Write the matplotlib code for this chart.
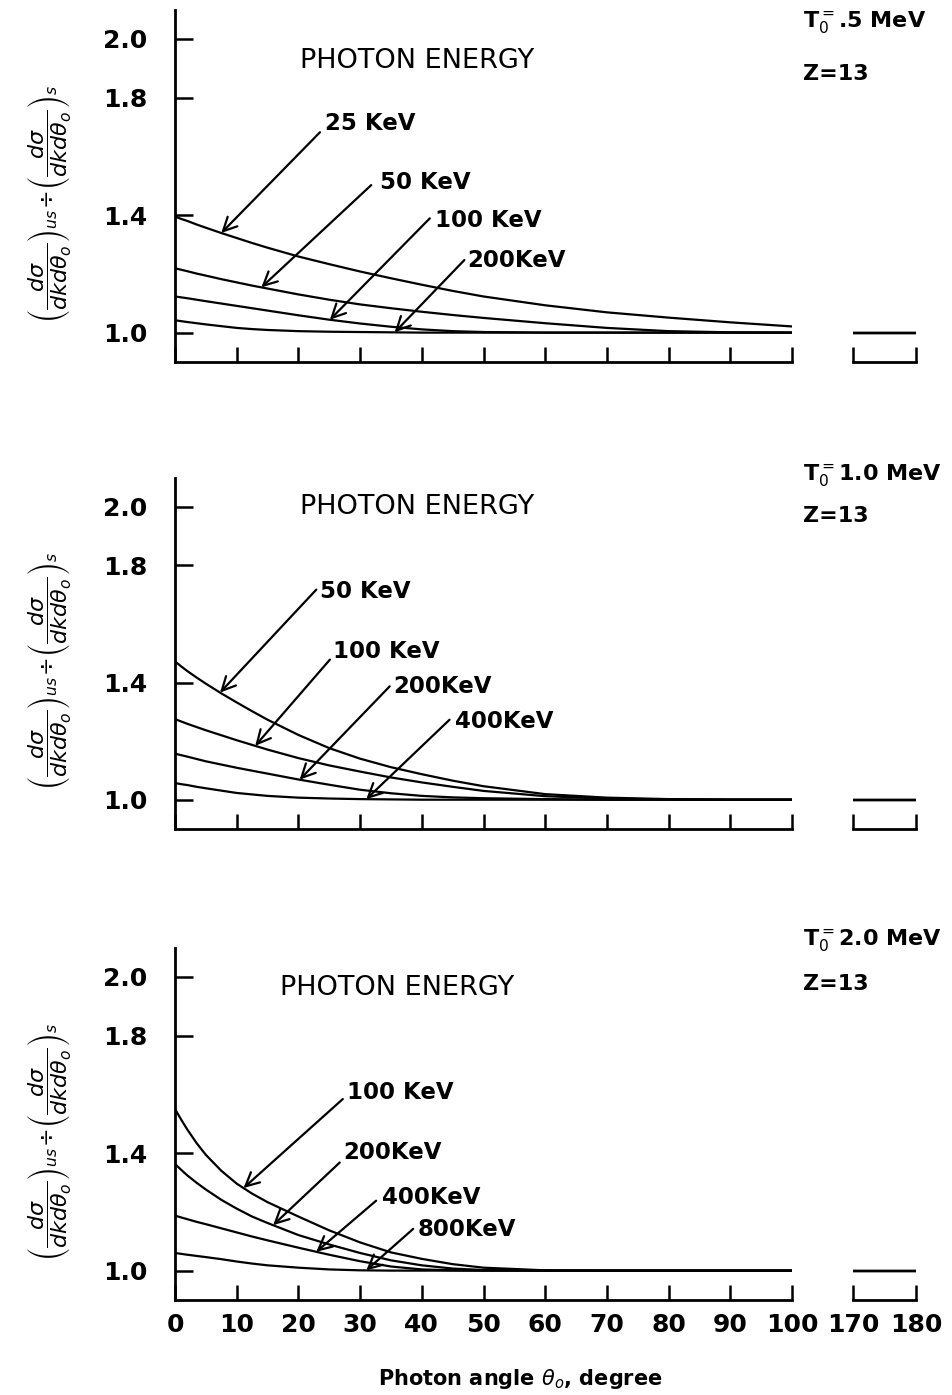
import numpy as np
import matplotlib
matplotlib.use("Agg")
import matplotlib.pyplot as plt

plt.rcParams["font.family"] = ["DejaVu Sans"]
plt.rcParams["mathtext.fontset"] = "dejavusans"

# Photon angle grid (degrees) for the forward region, and the backward stub
angles = [0, 1, 2, 3.5, 5, 7.5, 10, 12.5, 15, 20, 25, 30, 35, 40, 45, 50, 60, 70, 80, 90, 100]
back_angles = [170, 180]
back_ratio = [1.0, 1.0]

# ---- T0 = 0.5 MeV, Z = 13 ----
labels_05 = ["25 KeV", "50 KeV", "100 KeV", "200KeV"]
ratio_05_25 = [1.395, 1.387, 1.380, 1.368, 1.357, 1.339, 1.322, 1.305, 1.289, 1.259, 1.233,
               1.208, 1.185, 1.163, 1.142, 1.123, 1.093, 1.069, 1.051, 1.035, 1.021]
ratio_05_50 = [1.219, 1.214, 1.209, 1.201, 1.194, 1.182, 1.171, 1.160, 1.150, 1.130, 1.112,
               1.096, 1.083, 1.071, 1.060, 1.050, 1.032, 1.016, 1.005, 1.001, 1.000]
ratio_05_100 = [1.123, 1.120, 1.117, 1.112, 1.107, 1.099, 1.091, 1.083, 1.075, 1.059, 1.044,
                1.031, 1.020, 1.011, 1.005, 1.002, 1.000, 1.000, 1.000, 1.000, 1.000]
ratio_05_200 = [1.042, 1.039, 1.036, 1.032, 1.028, 1.022, 1.016, 1.012, 1.009, 1.005, 1.003,
                1.002, 1.001, 1.000, 1.000, 1.000, 1.000, 1.000, 1.000, 1.000, 1.000]

# ---- T0 = 1.0 MeV, Z = 13 ----
labels_10 = ["50 KeV", "100 KeV", "200KeV", "400KeV"]
ratio_10_50 = [1.472, 1.455, 1.439, 1.417, 1.396, 1.363, 1.332, 1.302, 1.273, 1.221, 1.176,
               1.140, 1.111, 1.087, 1.065, 1.046, 1.019, 1.007, 1.002, 1.000, 1.000]
ratio_10_100 = [1.275, 1.267, 1.259, 1.248, 1.237, 1.220, 1.203, 1.187, 1.171, 1.142, 1.117,
                1.096, 1.076, 1.059, 1.044, 1.030, 1.012, 1.004, 1.001, 1.000, 1.000]
ratio_10_200 = [1.157, 1.152, 1.147, 1.139, 1.131, 1.120, 1.109, 1.099, 1.089, 1.069, 1.051,
                1.034, 1.022, 1.013, 1.008, 1.005, 1.002, 1.000, 1.000, 1.000, 1.000]
ratio_10_400 = [1.057, 1.053, 1.050, 1.044, 1.039, 1.031, 1.023, 1.018, 1.013, 1.007, 1.004,
                1.002, 1.001, 1.000, 1.000, 1.000, 1.000, 1.000, 1.000, 1.000, 1.000]

# ---- T0 = 2.0 MeV, Z = 13 ----
labels_20 = ["100 KeV", "200KeV", "400KeV", "800KeV"]
ratio_20_100 = [1.550, 1.514, 1.480, 1.434, 1.394, 1.340, 1.296, 1.262, 1.233, 1.184, 1.137,
                1.096, 1.062, 1.040, 1.022, 1.010, 1.001, 1.000, 1.000, 1.000, 1.000]
ratio_20_200 = [1.363, 1.343, 1.324, 1.299, 1.276, 1.241, 1.211, 1.184, 1.162, 1.121, 1.089,
                1.060, 1.035, 1.018, 1.007, 1.002, 1.000, 1.000, 1.000, 1.000, 1.000]
ratio_20_400 = [1.187, 1.181, 1.175, 1.166, 1.158, 1.144, 1.130, 1.116, 1.103, 1.078, 1.054,
                1.032, 1.014, 1.004, 1.001, 1.000, 1.000, 1.000, 1.000, 1.000, 1.000]
ratio_20_800 = [1.060, 1.057, 1.054, 1.050, 1.046, 1.039, 1.031, 1.024, 1.018, 1.010, 1.004,
                1.001, 1.000, 1.000, 1.000, 1.000, 1.000, 1.000, 1.000, 1.000, 1.000]

# Label placement (angle, ratio): text anchor, arrow tail, and the angle the arrow points at
text_05 = [(24.3, 1.712), (33.2, 1.512), (42.1, 1.382), (47.4, 1.244)]
tail_05 = [(23.5, 1.682), (31.8, 1.502), (41.3, 1.389), (46.9, 1.247)]
head_05 = [7.5, 14.0, 25.1, 35.6]

text_10 = [(23.5, 1.710), (25.6, 1.505), (35.3, 1.386), (45.3, 1.266)]
tail_10 = [(22.9, 1.717), (25.1, 1.478), (34.8, 1.387), (44.5, 1.273)]
head_10 = [7.3, 13.0, 20.2, 31.0]

text_20 = [(27.8, 1.605), (27.2, 1.401), (33.5, 1.248), (39.3, 1.139)]
tail_20 = [(27.2, 1.584), (26.7, 1.368), (32.6, 1.238), (38.6, 1.142)]
head_20 = [11.1, 15.9, 22.9, 31.0]

beam_labels = [r"T$_{0}^{=}$.5 MeV", r"T$_{0}^{=}$1.0 MeV", r"T$_{0}^{=}$2.0 MeV"]
title_xy = [(20.2, 1.925), (20.2, 2.0), (17.0, 1.963)]

yticks = [1.0, 1.4, 1.8, 2.0]
ytick_labels = ["1.0", "1.4", "1.8", "2.0"]
xticks = [0, 10, 20, 30, 40, 50, 60, 70, 80, 90, 100]
xtick_labels = ["0", "10", "20", "30", "40", "50", "60", "70", "80", "90", "100"]
back_ticks = [170, 180]
back_tick_labels = ["170", "180"]

panels = [
    dict(series=[ratio_05_25, ratio_05_50, ratio_05_100, ratio_05_200], labels=labels_05,
         text=text_05, tail=tail_05, head=head_05, beam=beam_labels[0], title=title_xy[0]),
    dict(series=[ratio_10_50, ratio_10_100, ratio_10_200, ratio_10_400], labels=labels_10,
         text=text_10, tail=tail_10, head=head_10, beam=beam_labels[1], title=title_xy[1]),
    dict(series=[ratio_20_100, ratio_20_200, ratio_20_400, ratio_20_800], labels=labels_20,
         text=text_20, tail=tail_20, head=head_20, beam=beam_labels[2], title=title_xy[2]),
]

W, H = 952, 1395
fig = plt.figure(figsize=(W / 100, H / 100), dpi=100)

# panel frames in pixels: (top, bottom)
frames = [(10, 362), (478, 829), (948, 1300)]
beam_baselines = [(27, 80), (480, 522), (945, 990)]
main_left, main_right = 175, 792
back_left, back_right = 853, 916
ylim = (0.90, 2.098)

ylabel = (r"$\left(\dfrac{d\sigma}{dkd\theta_o}\right)_{us}\!\div\!"
          r"\left(\dfrac{d\sigma}{dkd\theta_o}\right)_{s}$")

LW_AX = 2.0
LW_CURVE = 1.6

for i, (panel, (top, bottom)) in enumerate(zip(panels, frames)):
    last = i == len(panels) - 1
    rect_y = 1 - bottom / H
    rect_h = (bottom - top) / H
    ax = fig.add_axes([main_left / W, rect_y, (main_right - main_left) / W, rect_h])
    axb = fig.add_axes([back_left / W, rect_y, (back_right - back_left) / W, rect_h])

    for vals in panel["series"]:
        ax.plot(angles, vals, color="black", lw=LW_CURVE, solid_joinstyle="round")
        axb.plot(back_angles, back_ratio, color="black", lw=LW_CURVE)

    for a in (ax, axb):
        a.set_ylim(*ylim)
        a.spines["top"].set_visible(False)
        a.spines["right"].set_visible(False)
        a.spines["bottom"].set_linewidth(LW_AX)
        a.tick_params(axis="x", direction="in", length=10.5, width=1.8, labelsize=18, pad=9)
    ax.spines["left"].set_linewidth(LW_AX)
    axb.spines["left"].set_visible(False)

    ax.set_xlim(0, 100)
    axb.set_xlim(170, 180)
    ax.set_xticks(xticks)
    axb.set_xticks(back_ticks)
    axb.set_yticks([])
    if last:
        ax.set_xticklabels(xtick_labels, fontweight="bold")
        axb.set_xticklabels(back_tick_labels, fontweight="bold")
    else:
        ax.tick_params(axis="x", labelbottom=False)
        axb.tick_params(axis="x", labelbottom=False)

    ax.set_yticks(yticks)
    ax.set_yticklabels(ytick_labels, fontweight="bold")
    ax.tick_params(axis="y", direction="in", length=13, width=1.8, labelsize=18, pad=20)

    ax.text(-0.205, 0.45, ylabel, transform=ax.transAxes, rotation=90,
            ha="center", va="center", fontsize=16)

    tx, ty = panel["title"]
    ax.text(tx, ty, "PHOTON ENERGY", fontsize=19.5, ha="left", va="center")

    for vals, lab, (lx, ly), (sx, sy), hx in zip(panel["series"], panel["labels"],
                                                panel["text"], panel["tail"], panel["head"]):
        hy = float(np.interp(hx, angles, vals))
        ax.text(lx, ly, lab, fontsize=16.5, fontweight="bold", ha="left", va="center")
        ax.annotate("", xy=(hx, hy), xytext=(sx, sy),
                    arrowprops=dict(arrowstyle="->,head_length=0.7,head_width=0.35",
                                    lw=1.6, color="black", shrinkA=0, shrinkB=0,
                                    mutation_scale=14))

    b1, b2 = beam_baselines[i]
    fig.text(803 / W, 1 - b1 / H, panel["beam"], fontsize=16, fontweight="bold",
             ha="left", va="baseline")
    fig.text(803 / W, 1 - b2 / H, "Z=13", fontsize=16, fontweight="bold",
             ha="left", va="baseline")

fig.text(520 / W, 1 - 1385 / H, r"Photon angle $\theta_{o}$, degree", fontsize=15,
         fontweight="bold", ha="center", va="baseline")

fig.savefig("out.png", dpi=100, facecolor="white")
